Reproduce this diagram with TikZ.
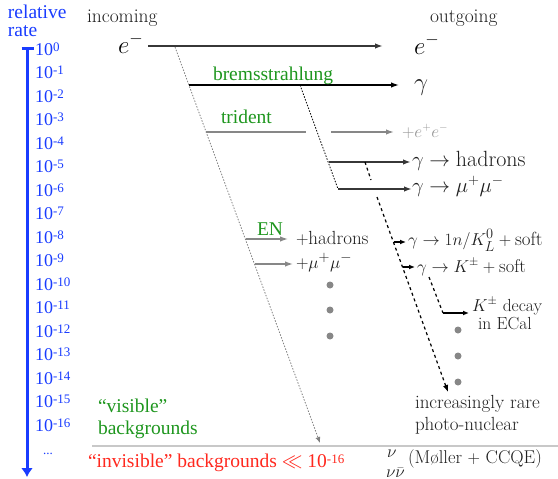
\documentclass[tikz,border=0pt]{standalone}
\usepackage{amsmath,amssymb}
\usepackage{fontspec}
\newfontfamily\tms{Liberation Serif}
\usetikzlibrary{arrows.meta,calc}
\definecolor{axblue}{RGB}{25,60,255}
\definecolor{tgreen}{RGB}{30,150,30}
\definecolor{tred}{RGB}{255,40,30}
\definecolor{dark}{RGB}{55,55,55}
\definecolor{txtdark}{RGB}{30,30,30}
\definecolor{midgray}{RGB}{135,135,135}
\definecolor{lgray}{RGB}{150,150,150}
\definecolor{sepgray}{RGB}{200,200,200}
\newcommand\axsup[1]{\raisebox{3.6pt}{\fontsize{13}{13}\selectfont #1}}
\begin{document}
\begin{tikzpicture}[x=1pt,y=-1pt,
  lbl/.style={inner sep=0pt, outer sep=0pt, anchor=base west},
  tmstx/.style={lbl, font=\tms\fontsize{19.5}{20}\selectfont},
  axl/.style={lbl, text=axblue, font=\tms\fontsize{18}{18}\selectfont},
  cmt/.style={lbl, text=txtdark, font=\fontsize{19}{19}\selectfont},
  cmbig/.style={lbl, text=txtdark, font=\fontsize{22}{22}\selectfont},
  tipA/.style={-{Latex[length=8pt,width=5.5pt]}},
  tipS/.style={-{Latex[length=6pt,width=5pt]}},
  mainline/.style={dark, line width=1.6pt},
  grayline/.style={midgray, line width=1.5pt},
  dotl/.style={gray, line width=0.8pt, dash pattern=on 1.5pt off 1.5pt},
  dotk/.style={black, line width=0.8pt, dash pattern=on 1.5pt off 1.5pt},
  dashk/.style={black, line width=1.2pt, dash pattern=on 3pt off 3pt},
  gdot/.style={circle, fill=midgray, inner sep=0pt, minimum size=7pt}
]
\useasboundingbox (0,0) rectangle (558,479);

% ---- rate axis ----
\node[tmstx, text=axblue] (relative) at (8,18) {relative};
\node[tmstx, text=axblue] (rate) at (8,37) {rate};
\coordinate (axtop) at (27,48);
\coordinate (axbot) at (27,477);
\coordinate (tickl) at (21.5,48);
\coordinate (tickr) at (33.5,48);
\draw[axblue, line width=3pt, -{Latex[length=9pt,width=12pt]}] (axtop) -- (axbot);
\draw[axblue, line width=3pt] (tickl) -- (tickr);
\foreach \k [count=\i from 0] in {0,-1,...,-16} {
  \node[axl] (ax\i) at (35, 55+23.5*\i) {10\axsup{\k}};
}
\node[axl, font=\tms\fontsize{13}{13}\selectfont] (axdots) at (43,454) {...};

% ---- headers ----
\node[cmt, font=\fontsize{19.5}{20}\selectfont] (incoming) at (87,22) {incoming};
\node[cmt, font=\fontsize{19.5}{20}\selectfont] (outgoing) at (430,23) {outgoing};
\node[lbl, font=\fontsize{25}{25}\selectfont] (ein) at (118,53) {$e^-$};
\node[lbl, font=\fontsize{25}{25}\selectfont] (eout) at (414,54) {$e^-$};

% ---- coordinates ----
\coordinate (eL) at (148,46);  \coordinate (eR) at (383,46);
\coordinate (d1a) at (175,47); \coordinate (d1b) at (320,443);
\coordinate (bL) at (189,85);  \coordinate (bR) at (399,85);
\coordinate (tL) at (206,132); \coordinate (tM1) at (306,132);
\coordinate (tM2) at (331,132); \coordinate (tR) at (394,132);
\coordinate (d2a) at (300,85); \coordinate (d2b) at (338,189);
\coordinate (hL) at (329,162); \coordinate (hR) at (411,162);
\coordinate (mL) at (338,189); \coordinate (mR) at (412,189);
\coordinate (d3a) at (365,162); \coordinate (d3g1) at (371,180);
\coordinate (d3g2) at (377,197); \coordinate (d3b) at (448,392);
\coordinate (k1L) at (393.5,242); \coordinate (k1R) at (406,242);
\coordinate (k2L) at (402.5,267); \coordinate (k2R) at (415,267);
\coordinate (d4a) at (429,277); \coordinate (d4b) at (443,313); \coordinate (d4R) at (469,313);
\coordinate (enL) at (245.5,239); \coordinate (enR) at (288,239);
\coordinate (muL) at (254.5,264); \coordinate (muR) at (293,264);
\coordinate (sepL) at (92,446); \coordinate (sepR) at (558,446);

% ---- lines ----
\draw[sepgray, line width=2pt] (sepL) -- (sepR);
\draw[mainline, tipA] (eL) -- (eR);
\draw[dotl, -{Latex[length=6pt,width=5pt]}] (d1a) -- (d1b);
\draw[black, line width=1.3pt, tipA] (bL) -- (bR);
\draw[grayline] (tL) -- (tM1);
\draw[grayline, tipA] (tM2) -- (tR);
\draw[dotk] (d2a) -- (d2b);
\draw[mainline, tipA] (hL) -- (hR);
\draw[mainline, tipA] (mL) -- (mR);
\draw[dashk] (d3a) -- (d3g1);
\draw[dashk, -{Latex[length=7pt,width=5.5pt]}] (d3g2) -- (d3b);
\draw[black, line width=1.2pt, tipS] (k1L) -- (k1R);
\draw[black, line width=1.2pt, tipS] (k2L) -- (k2R);
\draw[dashk] (d4a) -- (d4b);
\draw[black, line width=1.3pt, tipS] (d4b) -- (d4R);
\draw[midgray, line width=1.3pt, tipA] (enL) -- (enR);
\draw[midgray, line width=1.3pt, tipA] (muL) -- (muR);

% ---- dots ----
\node[gdot] (pa1) at (330,285) {};
\node[gdot] (pa2) at (330,310) {};
\node[gdot] (pa3) at (330,336) {};
\node[gdot] (pb1) at (458,330) {};
\node[gdot] (pb2) at (458,356) {};
\node[gdot] (pb3) at (458,382) {};

% ---- labels ----
\node[tmstx, text=tgreen] (brems) at (213,81) {bremsstrahlung};
\node[lbl, text=txtdark, font=\fontsize{23}{23}\selectfont] (gam) at (414,90) {$\gamma$};
\node[tmstx, text=tgreen] (trident) at (221,123) {trident};
\node[lbl, text=lgray, font=\fontsize{16}{16}\selectfont] (ee) at (402,137) {$+e^+e^-$};
\node[cmbig] (ghad) at (412,166) {$\gamma\rightarrow\mathrm{hadrons}$};
\node[cmbig] (gmu) at (412,192) {$\gamma\rightarrow\mu^+\mu^-$};
\node[tmstx, text=tgreen] (EN) at (257,235) {EN};
\node[cmt] (phad) at (296,244) {$+$hadrons};
\node[cmt] (pmu) at (296,268) {$+\mu^+\mu^-$};
\node[cmt, font=\fontsize{19}{19}\selectfont] (gn) at (408,245) {$\gamma\rightarrow 1n/K^0_L+\mathrm{soft}$};
\node[cmt, font=\fontsize{18.5}{18.5}\selectfont] (gk) at (417,272) {$\gamma\rightarrow K^\pm+\mathrm{soft}$};
\node[lbl, text=txtdark, font=\fontsize{17.5}{17.5}\selectfont] (kdec) at (472,311) {$K^\pm$ decay};
\node[lbl, text=txtdark, font=\fontsize{17.5}{17.5}\selectfont] (inecal) at (478,329) {in ECal};
\node[cmt] (incr) at (415,408) {increasingly rare};
\node[cmt] (photo) at (415,430) {photo-nuclear};
\node[tmstx, text=tgreen] (vis) at (98,412) {“visible”};
\node[tmstx, text=tgreen] (bkg) at (98,434) {backgrounds};
\node[tmstx, text=tred] (invis) at (88,467) {“invisible” backgrounds $\ll$ 10\axsup{-16}};
\node[lbl, text=txtdark, font=\fontsize{17}{17}\selectfont] (nu1) at (387,457) {$\nu$};
\node[lbl, text=txtdark, font=\fontsize{17}{17}\selectfont] (nu2) at (386,477) {$\nu\bar\nu$};
\node[cmt, font=\fontsize{18.5}{18.5}\selectfont] (moller) at (408,463) {(Møller $+$ CCQE)};
\end{tikzpicture}
\end{document}
